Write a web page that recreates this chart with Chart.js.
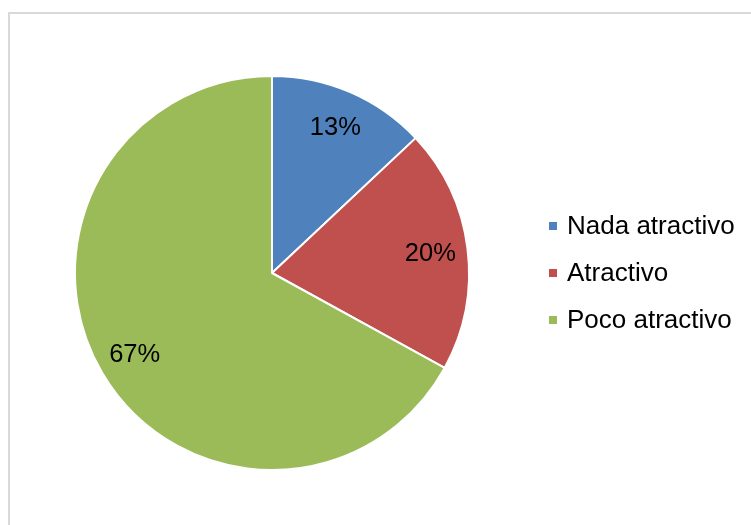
<!DOCTYPE html>
<html>
<head>
<meta charset="utf-8">
<script src="https://cdn.jsdelivr.net/npm/chart.js@4"></script>
<style>
  html, body { margin: 0; padding: 0; background: #fff; overflow: hidden; }
  #frame {
    position: absolute; left: 8px; top: 12px; width: 760px; height: 530px;
    border: 2px solid #d9d9d9; box-sizing: border-box;
  }
  #wrap { position: absolute; left: 0; top: 0; width: 751px; height: 525px; }
</style>
</head>
<body>
<div id="frame"></div>
<div id="wrap"><canvas id="myChart" width="751" height="525"></canvas></div>
<script>
const labels = ["Nada atractivo", "Atractivo", "Poco atractivo"];
const values = [13, 20, 67];
const colors = ["#4F81BD", "#C0504D", "#9BBB59"];

const FONT = "'Liberation Sans', Arial, sans-serif";

// percentage text inside each slice
const sliceLabels = {
  id: 'sliceLabels',
  afterDatasetsDraw(chart) {
    const c = chart.ctx;
    const meta = chart.getDatasetMeta(0);
    c.save();
    c.font = "25.5px " + FONT;
    c.fillStyle = "#000";
    c.textAlign = "center";
    c.textBaseline = "middle";
    meta.data.forEach((arc, i) => {
      const p = arc.getProps(['x', 'y', 'startAngle', 'endAngle', 'outerRadius'], true);
      const mid = (p.startAngle + p.endAngle) / 2;
      const r = p.outerRadius * 0.81;
      c.fillText(values[i] + "%", p.x + Math.cos(mid) * r, p.y + Math.sin(mid) * r + 1);
    });
    c.restore();
  }
};

// legend on the right, square markers
const sideLegend = {
  id: 'sideLegend',
  afterDraw(chart) {
    const c = chart.ctx;
    const rows = [226, 273, 320];
    c.save();
    c.font = "26px " + FONT;
    c.textBaseline = "middle";
    labels.forEach((lab, i) => {
      c.fillStyle = colors[i];
      c.fillRect(549, rows[i] - 4, 8, 8);
      c.fillStyle = "#000";
      c.fillText(lab, 567, rows[i] + 1);
    });
    c.restore();
  }
};

new Chart(document.getElementById('myChart'), {
  type: 'pie',
  data: {
    labels: labels,
    datasets: [{
      data: values,
      backgroundColor: colors,
      borderColor: "#ffffff",
      borderWidth: 2
    }]
  },
  options: {
    responsive: false,
    animation: false,
    layout: { padding: { left: 74, right: 281, top: 75, bottom: 54 } },
    plugins: {
      legend: { display: false },
      tooltip: { enabled: false }
    }
  },
  plugins: [sliceLabels, sideLegend]
});
</script>
</body>
</html>
